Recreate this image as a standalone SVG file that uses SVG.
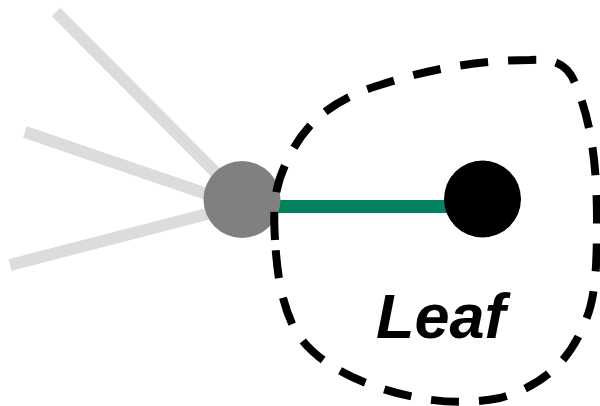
<svg xmlns="http://www.w3.org/2000/svg" width="600" height="406" viewBox="0 0 600 406">
<style>
.faded{stroke:#dcdcdc;stroke-width:12;fill:none}
.edge{stroke:#02825f;stroke-width:13;fill:none}
.leaf-label{font-family:"Liberation Sans",Arial,sans-serif;font-weight:bold;font-style:italic;font-size:63px;fill:#000}
</style>
<rect width="600" height="406" fill="#fff"/>
<g id="connectors">
<line class="faded" x1="56" y1="12" x2="240" y2="197"/>
<line class="faded" x1="25" y1="132" x2="242" y2="206"/>
<line class="faded" x1="10" y1="265" x2="242" y2="205"/>
<line class="edge" x1="242" y1="206.5" x2="482" y2="206.5"/>
</g>
<g id="parent">
<circle cx="242" cy="199.5" r="38.5" fill="#808080"/>
</g>
<g id="leaf">
<circle cx="482.5" cy="199" r="38.5" fill="#000"/>
<path d="M275,240 C273,205 274,185 290,155 C305,125 330,100 380,85 C420,72 470,60 530,60 C560,58 570,68 577,88 C590,120 597,160 597,220 C597,270 595,300 585,322 C570,360 545,385 500,398 C460,406 420,401 380,388 C340,375 310,355 295,330 C280,300 277,270 275,240 Z" fill="none" stroke="#000" stroke-width="8" stroke-dasharray="28 20"/>
<text class="leaf-label" x="376" y="338">Leaf</text>
</g>
</svg>
